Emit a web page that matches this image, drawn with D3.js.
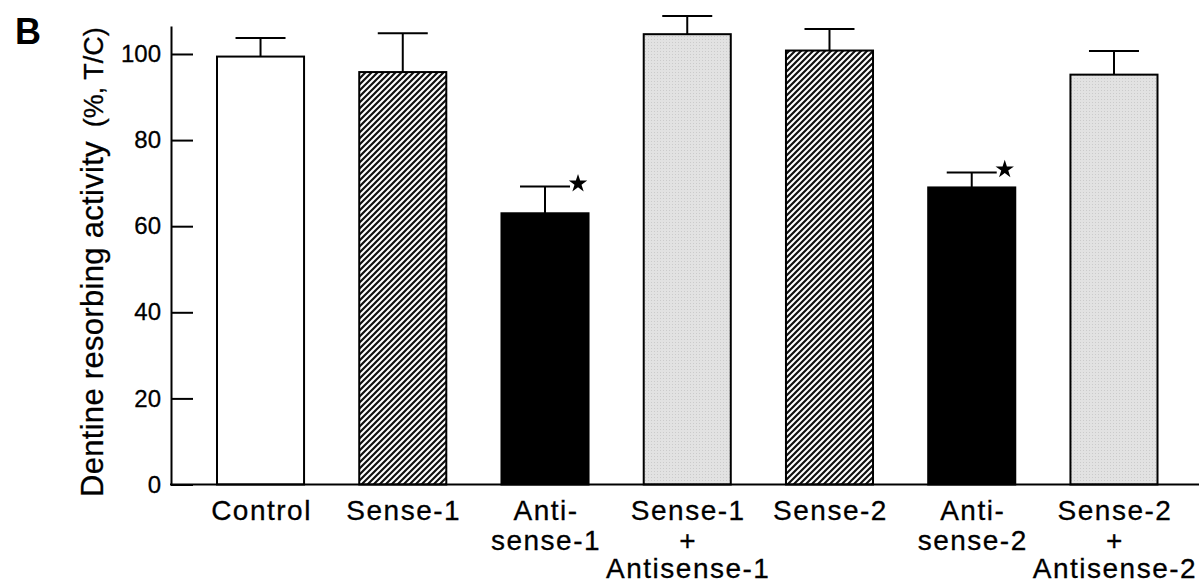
<!DOCTYPE html>
<html>
<head>
<meta charset="utf-8">
<script src="https://cdn.jsdelivr.net/npm/d3@7"></script>
<style>
  html, body { margin: 0; padding: 0; background: #fff; }
  svg { display: block; font-family: "Liberation Sans", Arial, Helvetica, sans-serif; }
</style>
</head>
<body>
<svg id="chart" width="1199" height="583"></svg>
<script>
// ---- data ----
const categories = ["Control", "Sense-1", "Anti-sense-1", "Sense-1+Antisense-1", "Sense-2", "Anti-sense-2", "Sense-2+Antisense-2"];
const labelLines = [["Control"], ["Sense-1"], ["Anti-", "sense-1"], ["Sense-1", "+", "Antisense-1"], ["Sense-2"], ["Anti-", "sense-2"], ["Sense-2", "+", "Antisense-2"]];
const values = [99.4, 95.8, 63.0, 104.6, 100.8, 69.0, 95.2];
const errors = [4.3, 9.0, 6.2, 4.2, 5.0, 3.5, 5.5];
const fills = ["white", "hatch", "black", "gray", "hatch", "black", "gray"];
const significant = [false, false, true, false, false, true, false];
const yTicks = [0, 20, 40, 60, 80, 100];
const yTitle = "Dentine resorbing activity";
const yUnit = "(%, T/C)";
const panelLabel = "B";

// ---- layout ----
const svg = d3.select("#chart");
const W = 1199, H = 583;
const axisX = 171;
const y = d3.scaleLinear().domain([0, 106.5]).range([484.5, 26]);
const x = d3.scaleBand().domain(categories).range([217, 1157.5]).paddingInner(0.388).paddingOuter(0);

// patterns
const defs = svg.append("defs");
const hatch = defs.append("pattern").attr("id", "hatch").attr("patternUnits", "userSpaceOnUse")
  .attr("width", 6).attr("height", 6);
hatch.append("rect").attr("width", 6).attr("height", 6).attr("fill", "#fff");
hatch.append("path").attr("d", "M-1,7 L7,-1 M-4,4 L4,-4 M2,10 L10,2")
  .attr("stroke", "#111").attr("stroke-width", 2.2);

const gray = defs.append("pattern").attr("id", "gray").attr("patternUnits", "userSpaceOnUse")
  .attr("width", 3).attr("height", 3);
gray.append("rect").attr("width", 3).attr("height", 3).attr("fill", "#e2e2e2");
gray.append("rect").attr("width", 1).attr("height", 1).attr("fill", "#cbcbcb");

const fillMap = { white: "#fff", black: "#000", hatch: "url(#hatch)", gray: "url(#gray)" };

// bars
const data = categories.map((c, i) => ({ c, v: values[i], e: errors[i], f: fills[i], s: significant[i], lines: labelLines[i] }));

svg.append("g").selectAll("rect").data(data).join("rect")
  .attr("x", d => x(d.c))
  .attr("y", d => y(d.v))
  .attr("width", x.bandwidth())
  .attr("height", d => y(0) - y(d.v))
  .attr("fill", d => fillMap[d.f])
  .attr("stroke", "#000")
  .attr("stroke-width", 2);

// error bars
const capHalf = 25;
const eg = svg.append("g").attr("stroke", "#000").attr("stroke-width", 2);
eg.selectAll("line.v").data(data).join("line").attr("class", "v")
  .attr("x1", d => x(d.c) + x.bandwidth() / 2).attr("x2", d => x(d.c) + x.bandwidth() / 2)
  .attr("y1", d => y(d.v)).attr("y2", d => y(d.v + d.e));
eg.selectAll("line.cap").data(data).join("line").attr("class", "cap")
  .attr("x1", d => x(d.c) + x.bandwidth() / 2 - capHalf).attr("x2", d => x(d.c) + x.bandwidth() / 2 + capHalf)
  .attr("y1", d => y(d.v + d.e)).attr("y2", d => y(d.v + d.e));

// significance stars
svg.append("g").selectAll("path").data(data.filter(d => d.s)).join("path")
  .attr("d", d3.symbol(d3.symbolStar).size(105))
  .attr("transform", d => `translate(${x(d.c) + x.bandwidth() / 2 + capHalf + 8},${y(d.v + d.e) - 3})`)
  .attr("fill", "#000");

// y axis
const yAxis = d3.axisLeft(y).tickValues(yTicks).tickSizeInner(-22).tickSizeOuter(0).tickPadding(10);
const ya = svg.append("g").attr("transform", `translate(${axisX},0)`).call(yAxis);
ya.select(".domain").attr("stroke", "#000").attr("stroke-width", 2);
ya.selectAll(".tick line").attr("stroke", "#000").attr("stroke-width", 2);
ya.selectAll(".tick text").attr("font-size", 24).attr("fill", "#000")
  .attr("stroke", "#000").attr("stroke-width", 0.3)
  .attr("font-family", "'Liberation Sans', Arial, sans-serif");

// x axis baseline
svg.append("line").attr("x1", axisX - 1).attr("x2", W).attr("y1", y(0)).attr("y2", y(0))
  .attr("stroke", "#000").attr("stroke-width", 2);

// x labels
const lineY = [519.5, 549.5, 577.5];
const lg = svg.append("g");
data.forEach(d => {
  const cx = x(d.c) + x.bandwidth() / 2;
  d.lines.forEach((t, j) => {
    lg.append("text").attr("x", cx + 1).attr("y", lineY[j])
      .attr("text-anchor", "middle").attr("font-size", 28).attr("letter-spacing", 1.5)
      .attr("fill", "#000").attr("stroke", "#000").attr("stroke-width", 0.3).text(t);
  });
});

// y title
const yt = svg.append("text").attr("transform", "translate(103,497) rotate(-90)")
  .attr("text-anchor", "start").attr("fill", "#000").attr("stroke", "#000").attr("stroke-width", 0.3);
yt.append("tspan").attr("font-size", 31).attr("letter-spacing", 0.3).text(yTitle);
yt.append("tspan").attr("font-size", 27).attr("dx", 14).text(yUnit);

// panel label
svg.append("text").attr("x", 15).attr("y", 44).attr("font-size", 36).attr("font-weight", "bold")
  .attr("fill", "#000").text(panelLabel);
</script>
</body>
</html>
